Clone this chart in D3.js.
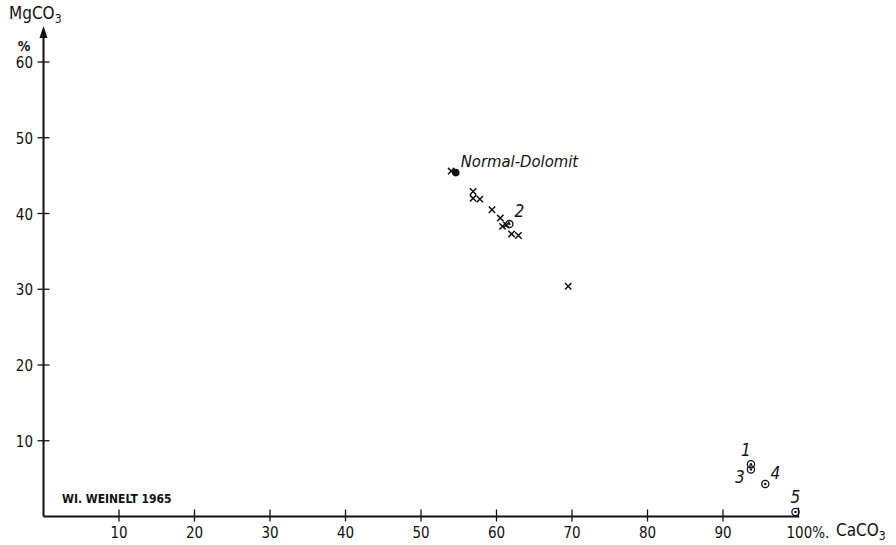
<!DOCTYPE html>
<html>
<head>
<meta charset="utf-8">
<script src="https://cdn.jsdelivr.net/npm/d3@7"></script>
<style>
  body { margin: 0; background: #fff; }
  svg { display: block; }
  text { font-family: "DejaVu Sans Condensed", "DejaVu Sans", sans-serif; fill: #111; }
</style>
</head>
<body>
<div id="chart"></div>
<script>
// samples (x markers): CaCO3 %, MgCO3 %
var sampleCa = [54.0, 56.9, 56.9, 57.8, 59.4, 60.5, 60.8, 61.3, 62.0, 62.9, 69.5];
var sampleMg = [45.6, 42.9, 42.0, 41.9, 40.5, 39.4, 38.3, 38.5, 37.3, 37.1, 30.4];

// numbered samples (circled points)
var numCa = [93.7, 61.7, 93.7, 95.6, 99.6];
var numMg = [6.9, 38.6, 6.2, 4.3, 0.6];
var numLabel = ["1", "2", "3", "4", "5"];

// normal dolomite
var dolCa = 54.6, dolMg = 45.4;

var xTicks = [10, 20, 30, 40, 50, 60, 70, 80, 90];
var yTicks = [10, 20, 30, 40, 50, 60];

var W = 896, H = 545;

var svg = d3.select("#chart").append("svg")
    .attr("width", W).attr("height", H);

var x = d3.scaleLinear().domain([0, 100]).range([43.5, 798.5]);
var y = d3.scaleLinear().domain([0, 60]).range([516.5, 62]);

// axes lines
svg.append("line")
    .attr("x1", x(0)).attr("x2", x(100))
    .attr("y1", y(0)).attr("y2", y(0))
    .attr("stroke", "#111").attr("stroke-width", 2);
svg.append("line")
    .attr("x1", x(0)).attr("x2", x(0))
    .attr("y1", y(0)).attr("y2", 36)
    .attr("stroke", "#111").attr("stroke-width", 2);
// arrow head
svg.append("path")
    .attr("d", "M" + x(0) + ",26 L" + (x(0) - 4) + ",38 L" + (x(0) + 4) + ",38 Z")
    .attr("fill", "#111");

// x ticks
var xt = svg.append("g");
xt.selectAll("line").data(xTicks).enter().append("line")
    .attr("x1", d => x(d)).attr("x2", d => x(d))
    .attr("y1", y(0) - 7).attr("y2", y(0) + 5)
    .attr("stroke", "#111").attr("stroke-width", 1.3);
xt.selectAll("text").data(xTicks).enter().append("text")
    .attr("x", d => x(d)).attr("y", 538)
    .attr("text-anchor", "middle")
    .style("font-size", "15px")
    .text(d => d);
// end of x axis at 100
svg.append("line")
    .attr("x1", x(100)).attr("x2", x(100))
    .attr("y1", y(0) - 9).attr("y2", y(0) + 1)
    .attr("stroke", "#111").attr("stroke-width", 1.3);
svg.append("text")
    .attr("x", x(100) - 12).attr("y", 538)
    .style("font-size", "15px")
    .text("100%.");
var cal = svg.append("text")
    .attr("x", 836).attr("y", 536)
    .style("font-size", "17px");
cal.append("tspan").text("CaCO");
cal.append("tspan").attr("dy", 4).style("font-size", "12px").text("3");

// y ticks
var yt = svg.append("g");
yt.selectAll("line").data(yTicks).enter().append("line")
    .attr("x1", x(0) - 6).attr("x2", x(0) + 6)
    .attr("y1", d => y(d)).attr("y2", d => y(d))
    .attr("stroke", "#111").attr("stroke-width", 1.3);
yt.selectAll("text").data(yTicks).enter().append("text")
    .attr("x", 33).attr("y", d => y(d) + 6)
    .attr("text-anchor", "end")
    .style("font-size", "15px")
    .text(d => d);
svg.append("text")
    .attr("x", 24).attr("y", 51)
    .attr("text-anchor", "middle")
    .style("font-size", "14px").style("font-weight", "bold")
    .text("%");
var mg = svg.append("text")
    .attr("x", 9).attr("y", 19)
    .style("font-size", "17px");
mg.append("tspan").text("MgCO");
mg.append("tspan").attr("dy", 4).style("font-size", "12px").text("3");

// author note
svg.append("text")
    .attr("x", 62).attr("y", 503)
    .style("font-size", "12px").style("font-weight", "bold")
    .text("WI. WEINELT 1965");

// crosses
var s = 3.2;
svg.append("g").selectAll("path").data(sampleCa).enter().append("path")
    .attr("d", (d, i) => {
        var cx = x(d), cy = y(sampleMg[i]);
        return "M" + (cx - s) + "," + (cy - s) + "L" + (cx + s) + "," + (cy + s) +
               "M" + (cx - s) + "," + (cy + s) + "L" + (cx + s) + "," + (cy - s);
    })
    .attr("stroke", "#111").attr("stroke-width", 1.5).attr("fill", "none");

// normal dolomite
svg.append("circle")
    .attr("cx", x(dolCa)).attr("cy", y(dolMg)).attr("r", 3.8)
    .attr("fill", "#111");
svg.append("text")
    .attr("x", x(dolCa) + 5).attr("y", y(dolMg) - 6)
    .style("font-size", "16.5px").style("font-style", "italic")
    .text("Normal-Dolomit");

// circled numbered points
var ng = svg.append("g");
ng.selectAll("circle.o").data(numCa).enter().append("circle")
    .attr("class", "o")
    .attr("cx", d => x(d)).attr("cy", (d, i) => y(numMg[i])).attr("r", 3.6)
    .attr("fill", "none").attr("stroke", "#111").attr("stroke-width", 1.3);
ng.selectAll("circle.c").data(numCa).enter().append("circle")
    .attr("class", "c")
    .attr("cx", d => x(d)).attr("cy", (d, i) => y(numMg[i])).attr("r", 1.2)
    .attr("fill", "#111");

// label offsets (dx, dy) relative to the point
var labOff = [[-5, -8], [10, -7], [-11, 13], [10, -5], [0, -9]];
ng.selectAll("text").data(numLabel).enter().append("text")
    .attr("x", (d, i) => x(numCa[i]) + labOff[i][0])
    .attr("y", (d, i) => y(numMg[i]) + labOff[i][1])
    .attr("text-anchor", "middle")
    .style("font-size", "17px").style("font-style", "italic")
    .text(d => d);
</script>
</body>
</html>
